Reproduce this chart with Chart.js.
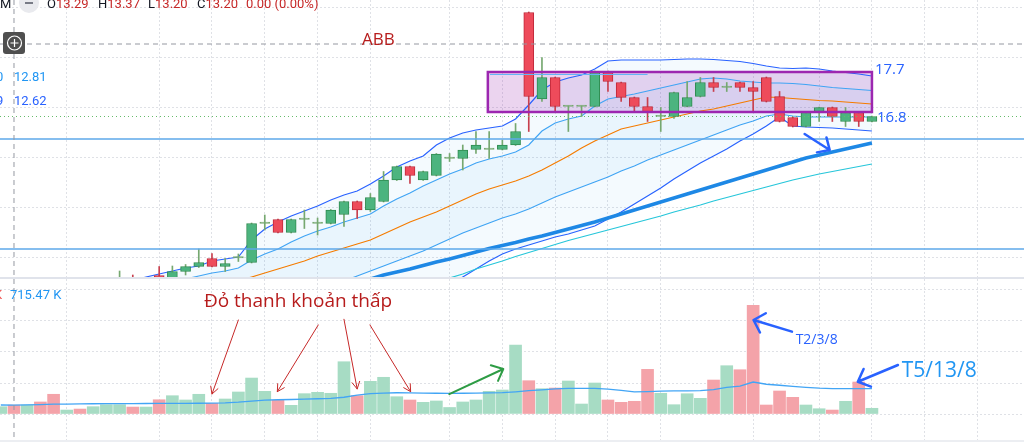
<!DOCTYPE html>
<html lang="vi">
<head>
<meta charset="utf-8">
<title>ABB</title>
<script src="https://cdn.jsdelivr.net/npm/chart.js@4.4.1/dist/chart.umd.min.js"></script>
<style>
  html, body { margin: 0; padding: 0; background: #fff; overflow: hidden; }
  #wrap { position: relative; width: 1024px; height: 442px; font-family: Roboto, sans-serif; overflow: hidden; }
  canvas { position: absolute; left: 0; }
  #pricePane { top: 0; }
  #volPane { top: 279px; }
  .sep { position: absolute; left: 0; width: 1024px; background: #e0e3eb; }
  .t { position: absolute; font-size: 13px; line-height: 16px; white-space: nowrap; }
  .dk { color: #131722; }
  .rd { color: #c62828; }
</style>
</head>
<body>
<div id="wrap">
  <canvas id="pricePane" width="1024" height="277"></canvas>
  <div class="sep" style="top:277px;height:2px"></div>
  <canvas id="volPane" width="1024" height="163"></canvas>
  <div class="sep" style="top:440px;height:2px;background:#eceef2"></div>

  <!-- legend / status line -->
  <div class="t dk" style="left:0;top:-4px">M</div>
  <svg style="position:absolute;left:19px;top:-7px" width="20" height="20"><circle cx="10" cy="10" r="10" fill="#e9eaee"/><rect x="6" y="9" width="8" height="2" fill="#787b86"/></svg>
  <div class="t" style="left:47px;top:-4px"><span class="dk">O</span><span class="rd">13.29</span></div>
  <div class="t" style="left:98px;top:-4px"><span class="dk">H</span><span class="rd">13.37</span></div>
  <div class="t" style="left:148px;top:-4px"><span class="dk">L</span><span class="rd">13.20</span></div>
  <div class="t" style="left:197px;top:-4px"><span class="dk">C</span><span class="rd">13.20</span></div>
  <div class="t rd" style="left:246px;top:-4px">0.00 (0.00%)</div>
  <svg style="position:absolute;left:3px;top:32px" width="22" height="22"><rect width="22" height="22" rx="3" fill="#4f4f4f"/><circle cx="11.5" cy="11" r="7" fill="none" stroke="#fff" stroke-width="1.2"/><path d="M7.5 11h8M11.5 7v8" stroke="#fff" stroke-width="1.2"/></svg>
  <div class="t" style="left:-4px;top:69px;color:#2196f3">0</div>
  <div class="t" style="left:14px;top:69px;color:#2196f3">12.81</div>
  <div class="t" style="left:-4px;top:93px;color:#2962ff">9</div>
  <div class="t" style="left:14px;top:93px;color:#2962ff">12.62</div>
  <div class="t" style="left:-6px;top:287px;color:#ef5350">K</div>
  <div class="t" style="left:10px;top:287px;color:#2196f3">715.47 K</div>
</div>

<script>
// phiên giao dịch (ngày/tháng 2020)
const dates = [
  "14/5", "15/5", "18/5", "19/5", "20/5", "21/5", "22/5", "25/5", "26/5", "27/5",
  "28/5", "29/5", "1/6", "2/6", "3/6", "4/6", "5/6", "8/6", "9/6", "10/6",
  "11/6", "12/6", "15/6", "16/6", "17/6", "18/6", "19/6", "22/6", "23/6", "24/6",
  "25/6", "26/6", "29/6", "30/6", "1/7", "2/7", "3/7", "6/7", "7/7", "8/7",
  "9/7", "10/7", "13/7", "14/7", "15/7", "16/7", "17/7", "20/7", "21/7", "22/7",
  "23/7", "24/7", "27/7", "28/7", "29/7", "30/7", "31/7", "3/8", "4/8", "5/8",
  "6/8", "7/8", "10/8", "11/8", "12/8", "13/8", "14/8"
];

const openP = [
  13.35, 13.29, 13.20, 13.35, 13.30, 13.15, 13.25, 13.20, 13.30, 13.40,
  13.50, 13.45, 13.63, 13.55, 13.71, 13.81, 13.97, 13.81, 13.98, 13.89,
  14.67, 14.75, 14.49, 14.75, 14.67, 14.67, 14.85, 15.11, 14.94, 15.11,
  15.54, 15.81, 15.54, 15.63, 15.97, 15.97, 16.15, 16.15, 16.15, 16.24,
  18.89, 17.16, 17.59, 17.01, 17.01, 17.01, 17.71, 17.49, 17.19, 17.01,
  16.81, 16.81, 17.01, 17.21, 17.49, 17.39, 17.49, 17.39, 17.59, 17.21,
  16.79, 16.61, 16.91, 16.99, 16.71, 16.89, 16.71
];
const highP = [
  13.45, 13.37, 13.35, 13.45, 13.40, 13.30, 13.30, 13.35, 13.45, 13.72,
  13.64, 13.55, 13.81, 13.82, 13.85, 14.16, 14.07, 13.97, 14.06, 14.68,
  14.84, 14.76, 14.76, 14.94, 14.78, 14.95, 15.12, 15.12, 15.27, 15.71,
  15.82, 15.82, 15.72, 16.07, 16.07, 16.24, 16.51, 16.51, 16.34, 16.67,
  18.90, 17.99, 17.60, 17.02, 17.02, 17.72, 17.72, 17.50, 17.20, 17.19,
  16.99, 17.30, 17.51, 17.59, 17.59, 17.49, 17.50, 17.51, 17.60, 17.31,
  16.80, 16.90, 17.00, 17.00, 16.99, 16.90, 16.82
];
const lowP = [
  13.25, 13.20, 13.15, 13.20, 13.10, 13.10, 13.15, 13.15, 13.25, 13.35,
  13.40, 13.40, 13.45, 13.50, 13.64, 13.79, 13.80, 13.71, 13.91, 13.88,
  14.54, 14.48, 14.48, 14.57, 14.44, 14.66, 14.61, 14.77, 14.91, 15.10,
  15.53, 15.47, 15.53, 15.62, 15.91, 15.74, 16.07, 15.97, 16.14, 16.23,
  16.51, 17.11, 16.91, 16.51, 16.81, 17.00, 17.31, 17.11, 16.91, 16.71,
  16.51, 16.77, 17.00, 17.20, 17.31, 17.31, 17.31, 16.91, 17.10, 16.70,
  16.60, 16.60, 16.71, 16.71, 16.61, 16.61, 16.70
];
const closeP = [
  13.40, 13.20, 13.30, 13.25, 13.15, 13.25, 13.20, 13.30, 13.40, 13.50,
  13.45, 13.50, 13.50, 13.71, 13.81, 13.89, 13.81, 13.87, 13.99, 14.67,
  14.68, 14.49, 14.75, 14.75, 14.67, 14.94, 15.11, 14.94, 15.19, 15.54,
  15.81, 15.63, 15.71, 16.06, 15.97, 16.14, 16.24, 16.15, 16.24, 16.51,
  17.21, 17.59, 17.01, 17.01, 17.01, 17.71, 17.51, 17.19, 17.01, 16.89,
  16.81, 17.29, 17.19, 17.49, 17.39, 17.39, 17.39, 17.31, 17.11, 16.71,
  16.61, 16.89, 16.99, 16.81, 16.89, 16.71, 16.81
];

// khối lượng (nghìn cp)
const volume = [
  590, 725, 725, 970, 1590, 320, 400, 590, 750, 750,
  560, 560, 1150, 1475, 1130, 1590, 860, 1210, 1775, 2900,
  1830, 1100, 700, 1640, 1750, 1670, 4215, 1475, 2635, 2960,
  1395, 1130, 940, 1050, 525, 970, 1130, 1830, 1935, 5560,
  2685, 2040, 2095, 2660, 805, 2500, 1130, 940, 1025, 3600,
  1670, 750, 1635, 1265, 2740, 3895, 3570, 8760, 725, 1855,
  1345, 725, 425, 320, 1025, 2580, 460
];
const volMA = [
  725, 715, 740, 760, 790, 800, 810, 825, 830, 835,
  840, 845, 850, 858, 862, 865, 880, 905, 960, 1040,
  1120, 1150, 1170, 1200, 1230, 1260, 1350, 1520, 1650, 1690,
  1715, 1705, 1690, 1675, 1668, 1675, 1690, 1705, 1717, 1790,
  1880, 1950, 2020, 2070, 2073, 2073, 2000, 1900, 1780, 1800,
  1840, 1860, 1870, 1880, 1960, 2150, 2250, 2580, 2400, 2320,
  2230, 2150, 2080, 2045, 2040, 2040, 2040
];

// Bollinger (dải ngoài bắt đầu từ phiên 9, dải trong từ phiên 12)
const bandStart = 9;
const bbUpper = [
  13.44, 13.52, 13.60, 13.66, 13.72, 13.78, 13.82, 13.92, 13.96, 14.00,
  14.34, 14.56, 14.70, 14.82, 14.92, 15.02, 15.14, 15.24, 15.32, 15.46,
  15.62, 15.80, 15.92, 16.02, 16.24, 16.38, 16.48, 16.54, 16.58, 16.62,
  16.76, 17.04, 17.34, 17.50, 17.58, 17.64, 17.76, 17.92, 17.94, 17.94,
  17.94, 17.94, 17.95, 17.96, 17.96, 17.95, 17.93, 17.91, 17.87, 17.82,
  17.78, 17.77, 17.78, 17.76, 17.72, 17.69, 17.66, 17.62
];
const bbLower = [
  12.90, 12.90, 12.91, 12.92, 12.93, 12.94, 12.95, 12.96, 12.97, 12.98,
  12.95, 12.92, 12.92, 12.93, 12.95, 12.98, 13.00, 13.02, 13.05, 13.08,
  13.10, 13.14, 13.20, 13.27, 13.35, 13.44, 13.60, 13.76, 13.92, 14.06,
  14.16, 14.24, 14.32, 14.40, 14.46, 14.54, 14.62, 14.76, 14.90, 15.06,
  15.22, 15.38, 15.56, 15.72, 15.88, 16.02, 16.16, 16.32, 16.46, 16.62,
  16.80, 16.62, 16.60, 16.59, 16.58, 16.56, 16.54, 16.52
];
const innerStart = 12;
const bbInnerUp = [
  13.44, 13.50, 13.56, 13.62, 13.68, 13.72, 13.78, 13.94, 14.06, 14.16,
  14.30, 14.42, 14.52, 14.60, 14.70, 14.78, 14.86, 15.02, 15.16, 15.28,
  15.42, 15.54, 15.66, 15.76, 15.88, 15.96, 16.02, 16.10, 16.24, 16.52,
  16.68, 16.76, 16.82, 17.02, 17.16, 17.21, 17.26, 17.32, 17.38, 17.44,
  17.50, 17.56, 17.58, 17.56, 17.52, 17.50, 17.48, 17.48, 17.47, 17.45,
  17.42, 17.39, 17.37, 17.35, 17.33
];
const bbInnerLow = [
  13.10, 13.12, 13.14, 13.16, 13.18, 13.20, 13.22, 13.24, 13.26, 13.28,
  13.31, 13.34, 13.37, 13.40, 13.52, 13.62, 13.72, 13.82, 13.92, 14.02,
  14.12, 14.24, 14.36, 14.48, 14.58, 14.68, 14.78, 14.86, 14.96, 15.08,
  15.20, 15.30, 15.40, 15.50, 15.60, 15.72, 15.82, 15.94, 16.04, 16.14,
  16.24, 16.34, 16.44, 16.54, 16.64, 16.72, 16.82, 16.86, 16.82, 16.80,
  16.80, 16.80, 16.80, 16.80, 16.80
];
const ma20Start = 16;
const ma20 = [
  13.34, 13.44, 13.52, 13.60, 13.68, 13.76, 13.84, 13.92, 14.02, 14.10,
  14.18, 14.26, 14.34, 14.46, 14.58, 14.70, 14.80, 14.90, 15.02, 15.14,
  15.26, 15.36, 15.44, 15.52, 15.62, 15.74, 15.88, 16.02, 16.18, 16.32,
  16.44, 16.56, 16.62, 16.68, 16.74, 16.80, 16.86, 16.92, 16.96, 17.02,
  17.08, 17.14, 17.20, 17.19, 17.17, 17.15, 17.13, 17.12, 17.10, 17.08,
  17.06
];
const ma50Start = 28;
const ma50 = [
  13.56, 13.64, 13.70, 13.76, 13.83, 13.90, 13.96, 14.03, 14.10, 14.17,
  14.23, 14.29, 14.36, 14.42, 14.49, 14.56, 14.63, 14.70, 14.78, 14.86,
  14.94, 15.02, 15.10, 15.18, 15.26, 15.34, 15.42, 15.50, 15.58, 15.66,
  15.74, 15.82, 15.90, 15.98, 16.04, 16.10, 16.16, 16.22, 16.28
];
const ma100Start = 33;
const ma100 = [
  13.48, 13.58, 13.66, 13.76, 13.84, 13.92, 14.01, 14.09, 14.17, 14.25,
  14.33, 14.40, 14.47, 14.54, 14.61, 14.68, 14.75, 14.82, 14.90, 14.97,
  15.04, 15.12, 15.19, 15.26, 15.33, 15.40, 15.47, 15.54, 15.60, 15.66,
  15.71, 15.76, 15.81, 15.86
];

// lưới thời gian (vị trí phiên) và lưới giá / khối lượng
const timeGrid = [5, 12, 16, 20, 24, 28, 34, 38, 42, 46, 50, 57, 62, 66, 70, 74];
const priceTicks = [14, 15, 16, 17, 18, 19];
const volTicks = [0, 2500, 5000, 7500, 10000];

// hình vẽ tay trên biểu đồ (toạ độ: phiên, giá / khối lượng)
const levels = [16.36, 14.16];
const zoneBox = [36.9, 66, 17.70, 16.90];
const zoneLine = [37.06, 49, 17.65];
const crosshair = [1, 18.26];
const priceArrow = [60.9, 16.46, 62.8, 16.14];
const redArrows = [
  [18.0, 7580, 16.0, 1610],
  [24.05, 7180, 20.95, 1800],
  [26.0, 7640, 27.0, 2020],
  [27.97, 7180, 31.05, 1800]
];
const greenArrow = [33.98, 1610, 38.07, 3630];
const t2Arrow = [59.94, 6640, 57.03, 7580];
const t5Arrow = [67.97, 3950, 64.93, 2600];

const X_MIN = -0.06, X_MAX = 77.52;

const GRID = "#dfe1e6";
const UP = "#4cb47f", UP_EDGE = "#2e8b4f", UP_WICK = "#76a870";
const DN = "#ee4b5b", DN_EDGE = "#c0283a", DN_WICK = "#c8404e";

const pts = (start, arr) => arr.map((v, i) => ({ x: start + i, y: v }));
const isUp = closeP.map((c, i) => c >= openP[i]);
const isDoji = closeP.map((c, i) => Math.abs(c - openP[i]) < 0.015);

function xScale() {
  return {
    type: "linear", min: X_MIN, max: X_MAX, offset: false,
    ticks: { display: false },
    grid: { color: GRID, drawTicks: false, offset: false },
    border: { display: false, dash: [2, 2] },
    afterBuildTicks: s => { s.ticks = timeGrid.map(v => ({ value: v })); }
  };
}

function arrow(ctx, x1, y1, x2, y2, color, lw, head, spread) {
  const a = Math.atan2(y2 - y1, x2 - x1);
  ctx.save();
  ctx.strokeStyle = color;
  ctx.lineWidth = lw;
  ctx.lineCap = "round";
  ctx.lineJoin = "round";
  ctx.beginPath();
  ctx.moveTo(x1, y1);
  ctx.lineTo(x2, y2);
  ctx.moveTo(x2 - head * Math.cos(a - spread), y2 - head * Math.sin(a - spread));
  ctx.lineTo(x2, y2);
  ctx.lineTo(x2 - head * Math.cos(a + spread), y2 - head * Math.sin(a + spread));
  ctx.stroke();
  ctx.restore();
}

function vDash(ctx, area, px) {
  ctx.save();
  ctx.strokeStyle = "#9598a1";
  ctx.lineWidth = 1;
  ctx.setLineDash([5, 4]);
  ctx.beginPath();
  ctx.moveTo(px, area.top);
  ctx.lineTo(px, area.bottom);
  ctx.stroke();
  ctx.restore();
}

const priceMarks = {
  id: "priceMarks",
  beforeDatasetsDraw(chart) {
    const { ctx, scales: { x, y } } = chart;
    const x0 = x.getPixelForValue(zoneBox[0]), x1 = x.getPixelForValue(zoneBox[1]);
    const y0 = y.getPixelForValue(zoneBox[2]), y1 = y.getPixelForValue(zoneBox[3]);
    ctx.save();
    ctx.fillStyle = "rgba(156,39,176,0.2)";
    ctx.fillRect(x0, y0, x1 - x0, y1 - y0);
    ctx.restore();
  },
  afterDatasetsDraw(chart) {
    const { ctx, chartArea: area, scales: { x, y } } = chart;
    ctx.save();

    // ngưỡng ngang
    ctx.strokeStyle = "#5ea8ea";
    ctx.lineWidth = 1.5;
    levels.forEach(v => {
      const py = y.getPixelForValue(v);
      ctx.beginPath();
      ctx.moveTo(area.left, py);
      ctx.lineTo(area.right, py);
      ctx.stroke();
    });

    // giá đóng cửa cuối
    const last = y.getPixelForValue(closeP[closeP.length - 1]);
    ctx.strokeStyle = "#66bb6a";
    ctx.lineWidth = 1;
    ctx.setLineDash([1, 3]);
    ctx.beginPath();
    ctx.moveTo(area.left, last);
    ctx.lineTo(area.right, last);
    ctx.stroke();

    // crosshair ngang
    ctx.strokeStyle = "#9598a1";
    ctx.setLineDash([5, 4]);
    const ch = y.getPixelForValue(crosshair[1]);
    ctx.beginPath();
    ctx.moveTo(area.left, ch);
    ctx.lineTo(area.right, ch);
    ctx.stroke();
    ctx.setLineDash([]);

    // vùng tích luỹ
    const x0 = x.getPixelForValue(zoneBox[0]), x1 = x.getPixelForValue(zoneBox[1]);
    const y0 = y.getPixelForValue(zoneBox[2]), y1 = y.getPixelForValue(zoneBox[3]);
    ctx.strokeStyle = "#9c27b0";
    ctx.lineWidth = 2.5;
    ctx.strokeRect(x0, y0, x1 - x0, y1 - y0);

    ctx.strokeStyle = "#64b5f6";
    ctx.lineWidth = 1;
    const zy = y.getPixelForValue(zoneLine[2]);
    ctx.beginPath();
    ctx.moveTo(x.getPixelForValue(zoneLine[0]), zy);
    ctx.lineTo(x.getPixelForValue(zoneLine[1]), zy);
    ctx.stroke();

    ctx.fillStyle = "#2962ff";
    ctx.font = '15px "Open Sans"';
    ctx.textBaseline = "middle";
    ctx.textAlign = "left";
    ctx.fillText("17.7", x1 + 3, y0 - 2);
    ctx.fillText("16.8", x1 + 5, last + 1);

    ctx.fillStyle = "#b71c1c";
    ctx.font = '17px "Open Sans"';
    ctx.textAlign = "center";
    ctx.fillText("ABB", x.getPixelForValue(28.6), y.getPixelForValue(18.34));
    ctx.restore();

    arrow(ctx, x.getPixelForValue(priceArrow[0]), y.getPixelForValue(priceArrow[1]),
      x.getPixelForValue(priceArrow[2]), y.getPixelForValue(priceArrow[3]), "#2962ff", 2.5, 13, 0.75);
    vDash(ctx, area, x.getPixelForValue(crosshair[0]));
  }
};

const volMarks = {
  id: "volMarks",
  afterDatasetsDraw(chart) {
    const { ctx, chartArea: area, scales: { x, y } } = chart;
    const px = v => x.getPixelForValue(v), py = v => y.getPixelForValue(v);

    redArrows.forEach(a => arrow(ctx, px(a[0]), py(a[1]), px(a[2]), py(a[3]), "#c62828", 1, 8, 0.5));
    arrow(ctx, px(greenArrow[0]), py(greenArrow[1]), px(greenArrow[2]), py(greenArrow[3]), "#2e9c45", 2, 13, 0.72);
    arrow(ctx, px(t2Arrow[0]), py(t2Arrow[1]), px(t2Arrow[2]), py(t2Arrow[3]), "#2962ff", 2.5, 14, 0.8);
    arrow(ctx, px(t5Arrow[0]), py(t5Arrow[1]), px(t5Arrow[2]), py(t5Arrow[3]), "#2962ff", 2.5, 14, 0.75);

    ctx.save();
    ctx.textBaseline = "middle";
    ctx.fillStyle = "#b71c1c";
    ctx.font = '19px "Open Sans"';
    ctx.textAlign = "center";
    ctx.fillText("Đỏ thanh khoản thấp", px(22.52), py(9030));
    ctx.textAlign = "left";
    ctx.fillStyle = "#2962ff";
    ctx.font = '14px "Open Sans"';
    ctx.fillText("T2/3/8", px(60.22), py(5970));
    ctx.fillStyle = "#2196f3";
    ctx.font = '21px "Open Sans"';
    ctx.fillText("T5/13/8", px(68.26), py(3470));
    ctx.restore();

    vDash(ctx, area, px(crosshair[0]));
  }
};

const lineDs = (data, color, width, order, fill, bg) => ({
  type: "line", data, borderColor: color, borderWidth: width, pointRadius: 0,
  tension: 0, fill: fill === undefined ? false : fill, backgroundColor: bg || "transparent", order
});

new Chart(document.getElementById("pricePane"), {
  type: "bar",
  data: {
    datasets: [
      lineDs(pts(bandStart, bbUpper), "#2962ff", 1.2, 6, 4, "rgba(33,150,243,0.05)"),
      lineDs(pts(innerStart, bbInnerUp), "#42a5f5", 1.2, 6, 3, "rgba(33,150,243,0.05)"),
      lineDs(pts(ma20Start, ma20), "#f57c00", 1.2, 5),
      lineDs(pts(innerStart, bbInnerLow), "#42a5f5", 1.2, 6),
      lineDs(pts(bandStart, bbLower), "#2962ff", 1.2, 6),
      lineDs(pts(ma50Start, ma50), "#1e88e5", 3.5, 4),
      lineDs(pts(ma100Start, ma100), "#26c6da", 1.2, 4),
      {
        type: "bar", label: "wick",
        data: closeP.map((c, i) => ({ x: i, y: [lowP[i], highP[i]] })),
        backgroundColor: isUp.map(u => u ? UP_WICK : DN_WICK),
        barThickness: 1, grouped: false, order: 2
      },
      {
        type: "bar", label: "body",
        data: closeP.map((c, i) => ({ x: i, y: [openP[i], c] })),
        backgroundColor: isUp.map((u, i) => isDoji[i] ? UP_WICK : (u ? UP : DN)),
        borderColor: isUp.map((u, i) => isDoji[i] ? UP_WICK : (u ? UP_EDGE : DN_EDGE)),
        borderWidth: 1, borderSkipped: false, barThickness: 10, minBarLength: 1.5,
        grouped: false, order: 1
      }
    ]
  },
  options: {
    responsive: false, animation: false, events: [],
    layout: { padding: 0 },
    plugins: { legend: { display: false }, tooltip: { enabled: false } },
    scales: {
      x: xScale(),
      y: {
        min: 13.60, max: 19.14,
        ticks: { display: false },
        grid: { color: GRID, drawTicks: false },
        border: { display: false, dash: [2, 2] },
        afterBuildTicks: s => { s.ticks = priceTicks.map(v => ({ value: v })); }
      }
    }
  },
  plugins: [priceMarks]
});

new Chart(document.getElementById("volPane"), {
  type: "bar",
  data: {
    datasets: [
      lineDs(pts(0, volMA), "#42a5f5", 1.3, 1),
      {
        type: "bar", label: "volume",
        data: volume.map((v, i) => ({ x: i, y: v })),
        backgroundColor: isUp.map(u => u ? "#a7dcc4" : "#f4a3a9"),
        barThickness: 12, grouped: false, order: 2
      }
    ]
  },
  options: {
    responsive: false, animation: false, events: [],
    layout: { padding: 0 },
    plugins: { legend: { display: false }, tooltip: { enabled: false } },
    scales: {
      x: xScale(),
      y: {
        min: -2258, max: 10887,
        ticks: { display: false },
        grid: { color: GRID, drawTicks: false },
        border: { display: false, dash: [2, 2] },
        afterBuildTicks: s => { s.ticks = volTicks.map(v => ({ value: v })); }
      }
    }
  },
  plugins: [volMarks]
});
</script>
</body>
</html>
